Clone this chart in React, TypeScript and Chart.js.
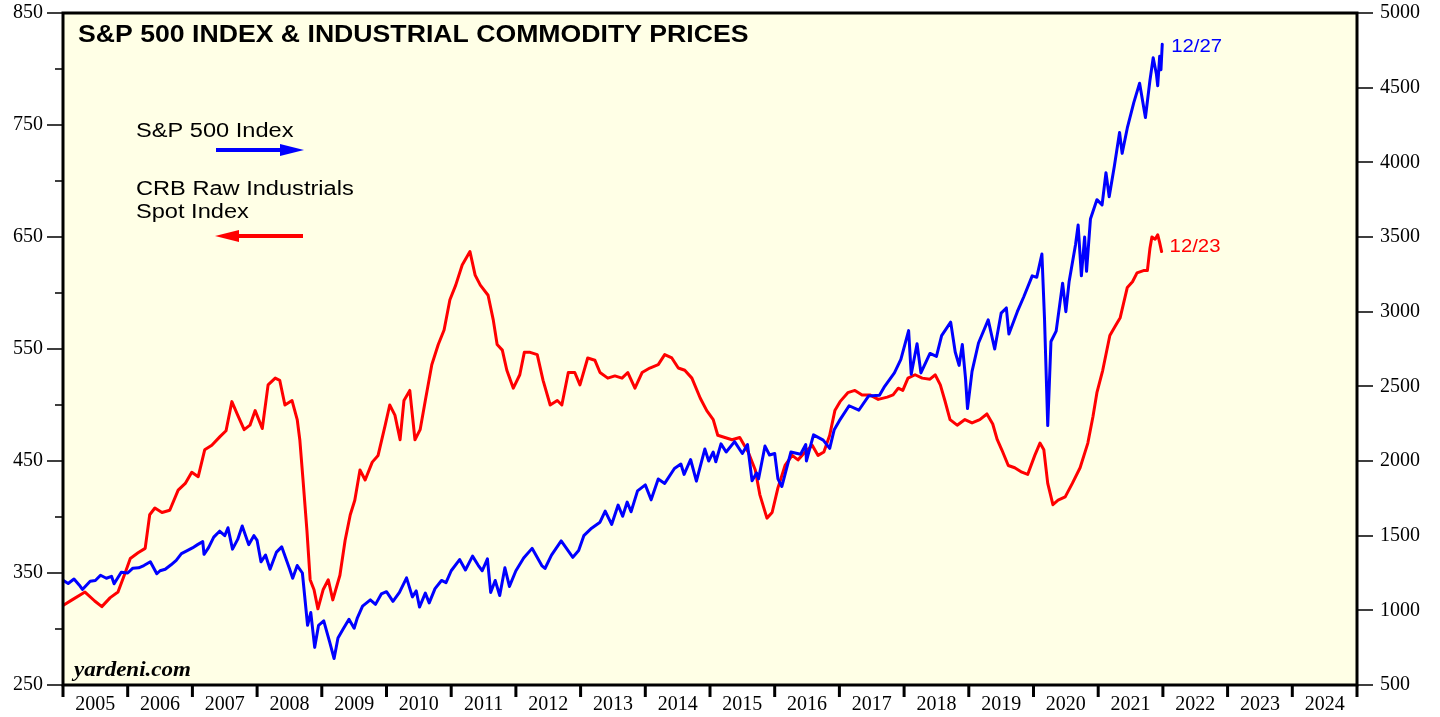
import React, { useEffect, useRef } from 'react';
import { Chart, registerables } from 'chart.js';

Chart.register(...registerables);

const TITLE = 'S&P 500 INDEX & INDUSTRIAL COMMODITY PRICES';
const LEGEND_SPX = 'S&P 500 Index';
const LEGEND_CRB = ['CRB Raw Industrials', 'Spot Index'];
const END_SPX = '12/27';
const END_CRB = '12/23';
const SOURCE = 'yardeni.com';

const yearLabels = [2005, 2006, 2007, 2008, 2009, 2010, 2011, 2012, 2013, 2014, 2015, 2016, 2017, 2018, 2019, 2020, 2021, 2022, 2023, 2024];
const leftMajorTicks = [250, 350, 450, 550, 650, 750, 850];
const leftMinorTicks = [300, 400, 500, 600, 700, 800];
const rightTicks = [500, 1000, 1500, 2000, 2500, 3000, 3500, 4000, 4500, 5000];

// S&P 500 Index (right axis) — [decimal year, value]
const spx: [number, number][] = [
  [2005.00, 1202], [2005.08, 1180], [2005.17, 1210], [2005.25, 1170], [2005.30, 1140], [2005.42, 1195],
  [2005.50, 1200], [2005.58, 1235], [2005.67, 1215], [2005.75, 1228], [2005.79, 1178], [2005.90, 1255],
  [2006.00, 1250], [2006.08, 1282], [2006.17, 1285], [2006.25, 1300], [2006.35, 1325], [2006.45, 1245],
  [2006.50, 1265], [2006.58, 1275], [2006.67, 1305], [2006.75, 1335], [2006.83, 1380], [2006.92, 1400],
  [2007.00, 1418], [2007.08, 1440], [2007.16, 1460], [2007.18, 1375], [2007.25, 1420], [2007.33, 1490],
  [2007.42, 1530], [2007.50, 1500], [2007.55, 1553], [2007.62, 1410], [2007.70, 1475], [2007.77, 1565],
  [2007.87, 1440], [2007.95, 1500], [2008.00, 1468], [2008.06, 1325], [2008.13, 1370], [2008.20, 1275],
  [2008.30, 1390], [2008.38, 1425], [2008.50, 1280], [2008.55, 1215], [2008.62, 1300], [2008.70, 1250],
  [2008.78, 900], [2008.83, 985], [2008.89, 752], [2008.95, 900], [2009.03, 930], [2009.12, 790],
  [2009.19, 677], [2009.25, 815], [2009.33, 875], [2009.42, 940], [2009.50, 880], [2009.55, 950],
  [2009.63, 1028], [2009.75, 1070], [2009.83, 1040], [2009.92, 1110], [2010.00, 1125], [2010.10, 1060],
  [2010.20, 1120], [2010.31, 1217], [2010.40, 1090], [2010.46, 1130], [2010.51, 1022], [2010.60, 1115],
  [2010.66, 1050], [2010.75, 1145], [2010.85, 1200], [2010.92, 1185], [2011.00, 1265], [2011.13, 1340],
  [2011.22, 1270], [2011.33, 1363], [2011.42, 1300], [2011.48, 1265], [2011.56, 1345], [2011.61, 1120],
  [2011.68, 1200], [2011.75, 1099], [2011.83, 1285], [2011.90, 1160], [2012.00, 1265], [2012.12, 1350],
  [2012.25, 1415], [2012.40, 1300], [2012.45, 1280], [2012.55, 1370], [2012.70, 1465], [2012.88, 1355],
  [2012.97, 1400], [2013.05, 1500], [2013.17, 1550], [2013.30, 1590], [2013.38, 1665], [2013.48, 1575],
  [2013.58, 1705], [2013.65, 1630], [2013.72, 1725], [2013.78, 1660], [2013.88, 1800], [2014.00, 1840],
  [2014.09, 1740], [2014.20, 1880], [2014.30, 1850], [2014.45, 1950], [2014.55, 1980], [2014.60, 1910],
  [2014.70, 2010], [2014.79, 1865], [2014.92, 2080], [2014.98, 2000], [2015.05, 2060], [2015.09, 1995],
  [2015.17, 2115], [2015.25, 2060], [2015.38, 2130], [2015.50, 2050], [2015.58, 2110], [2015.65, 1867],
  [2015.72, 1920], [2015.75, 1880], [2015.85, 2100], [2015.92, 2040], [2016.00, 2050], [2016.05, 1880],
  [2016.11, 1829], [2016.25, 2060], [2016.40, 2045], [2016.48, 2110], [2016.49, 2000], [2016.60, 2175],
  [2016.75, 2140], [2016.85, 2085], [2016.92, 2210], [2017.00, 2270], [2017.15, 2370], [2017.30, 2340],
  [2017.45, 2435], [2017.62, 2440], [2017.70, 2500], [2017.85, 2590], [2017.95, 2680], [2018.07, 2873],
  [2018.11, 2581], [2018.20, 2785], [2018.26, 2590], [2018.40, 2720], [2018.50, 2700], [2018.58, 2840],
  [2018.72, 2930], [2018.79, 2730], [2018.85, 2640], [2018.90, 2780], [2018.95, 2550], [2018.98, 2351],
  [2019.05, 2600], [2019.15, 2790], [2019.30, 2945], [2019.40, 2750], [2019.50, 2990], [2019.58, 3025],
  [2019.62, 2850], [2019.75, 3000], [2019.85, 3100], [2019.98, 3240], [2020.05, 3230], [2020.13, 3386],
  [2020.17, 2955], [2020.22, 2237], [2020.27, 2800], [2020.35, 2870], [2020.45, 3190], [2020.50, 3000],
  [2020.55, 3200], [2020.65, 3450], [2020.69, 3580], [2020.74, 3240], [2020.79, 3500], [2020.82, 3270],
  [2020.88, 3620], [2020.98, 3750], [2021.06, 3715], [2021.12, 3930], [2021.17, 3770], [2021.25, 3975],
  [2021.33, 4200], [2021.37, 4060], [2021.45, 4230], [2021.55, 4400], [2021.64, 4530], [2021.73, 4300],
  [2021.80, 4550], [2021.85, 4700], [2021.90, 4590], [2021.92, 4513], [2021.95, 4710], [2021.97, 4620],
  [2021.99, 4791],
];

// CRB Raw Industrials Spot Index (left axis) — [decimal year, value]
const crb: [number, number][] = [
  [2005.00, 321], [2005.14, 326], [2005.34, 333], [2005.49, 325], [2005.60, 320], [2005.73, 328],
  [2005.85, 333], [2005.96, 350], [2006.04, 363], [2006.16, 368], [2006.27, 372], [2006.34, 402],
  [2006.42, 408], [2006.53, 404], [2006.65, 406], [2006.78, 424], [2006.89, 430], [2006.99, 440],
  [2007.09, 436], [2007.19, 460], [2007.30, 464], [2007.43, 472], [2007.52, 477], [2007.61, 503],
  [2007.70, 491], [2007.80, 478], [2007.89, 482], [2007.97, 495], [2008.08, 479], [2008.17, 518],
  [2008.28, 524], [2008.35, 522], [2008.43, 500], [2008.54, 504], [2008.62, 487], [2008.66, 469],
  [2008.71, 433], [2008.77, 388], [2008.82, 344], [2008.88, 335], [2008.94, 318], [2009.02, 335],
  [2009.10, 344], [2009.17, 326], [2009.28, 348], [2009.36, 379], [2009.44, 402], [2009.51, 415],
  [2009.59, 442], [2009.67, 433], [2009.78, 449], [2009.87, 455], [2009.98, 482], [2010.05, 500],
  [2010.13, 491], [2010.21, 469], [2010.27, 504], [2010.36, 513], [2010.44, 469], [2010.52, 478],
  [2010.60, 504], [2010.70, 536], [2010.80, 554], [2010.89, 567], [2010.98, 594], [2011.07, 607],
  [2011.17, 625], [2011.29, 637], [2011.37, 616], [2011.45, 607], [2011.57, 598], [2011.65, 576],
  [2011.71, 554], [2011.79, 549], [2011.86, 531], [2011.96, 515], [2012.06, 527], [2012.13, 547],
  [2012.22, 547], [2012.33, 545], [2012.42, 522], [2012.53, 500], [2012.64, 504], [2012.71, 500],
  [2012.81, 529], [2012.91, 529], [2012.99, 518], [2013.11, 542], [2013.22, 540], [2013.30, 529],
  [2013.42, 524], [2013.53, 526], [2013.64, 524], [2013.73, 529], [2013.84, 515], [2013.95, 529],
  [2014.07, 533], [2014.20, 536], [2014.30, 545], [2014.41, 542], [2014.51, 533], [2014.61, 531],
  [2014.72, 524], [2014.85, 506], [2014.95, 495], [2015.05, 487], [2015.12, 473], [2015.23, 471],
  [2015.34, 469], [2015.46, 471], [2015.59, 458], [2015.70, 442], [2015.77, 420], [2015.88, 399],
  [2015.96, 404], [2016.05, 426], [2016.16, 446], [2016.27, 455], [2016.36, 451], [2016.47, 458],
  [2016.58, 464], [2016.67, 455], [2016.76, 458], [2016.85, 473], [2016.93, 495], [2017.01, 503],
  [2017.13, 511], [2017.24, 513], [2017.35, 509], [2017.47, 509], [2017.60, 505], [2017.74, 507],
  [2017.83, 509], [2017.91, 515], [2017.98, 513], [2018.06, 524], [2018.17, 527], [2018.28, 524],
  [2018.40, 523], [2018.48, 527], [2018.56, 518], [2018.63, 504], [2018.71, 487], [2018.82, 482],
  [2018.94, 487], [2019.05, 484], [2019.17, 487], [2019.28, 492], [2019.37, 483], [2019.44, 469],
  [2019.51, 460], [2019.61, 446], [2019.71, 444], [2019.82, 440], [2019.91, 438], [2020.02, 455],
  [2020.10, 466], [2020.16, 460], [2020.22, 430], [2020.30, 411], [2020.38, 415], [2020.49, 418],
  [2020.60, 430], [2020.72, 444], [2020.84, 466], [2020.92, 490], [2020.98, 511], [2021.07, 531],
  [2021.18, 562], [2021.26, 570], [2021.34, 578], [2021.45, 605], [2021.53, 610], [2021.60, 618],
  [2021.70, 620], [2021.76, 620], [2021.80, 640], [2021.83, 650], [2021.88, 648], [2021.92, 652],
  [2021.95, 645], [2021.98, 637],
];

const BLUE = '#0000ff';
const RED = '#ff0000';
const PLOT_BG = 'rgb(255,255,230)';

function stretchText(ctx: CanvasRenderingContext2D, txt: string, x: number, y: number, font: string, color: string, sx: number) {
  ctx.save();
  ctx.font = font;
  ctx.fillStyle = color;
  ctx.textAlign = 'left';
  ctx.textBaseline = 'alphabetic';
  ctx.translate(x, y);
  ctx.scale(sx, 1);
  ctx.fillText(txt, 0, 0);
  ctx.restore();
}

function arrow(ctx: CanvasRenderingContext2D, x1: number, x2: number, y: number, color: string, headRight: boolean) {
  const headLen = 24;
  const half = 6;
  ctx.save();
  ctx.strokeStyle = color;
  ctx.fillStyle = color;
  ctx.lineWidth = 4;
  ctx.beginPath();
  if (headRight) {
    ctx.moveTo(x1, y);
    ctx.lineTo(x2 - headLen + 2, y);
  } else {
    ctx.moveTo(x1 + headLen - 2, y);
    ctx.lineTo(x2, y);
  }
  ctx.stroke();
  ctx.beginPath();
  if (headRight) {
    ctx.moveTo(x2, y);
    ctx.lineTo(x2 - headLen, y - half);
    ctx.lineTo(x2 - headLen, y + half);
  } else {
    ctx.moveTo(x1, y);
    ctx.lineTo(x1 + headLen, y - half);
    ctx.lineTo(x1 + headLen, y + half);
  }
  ctx.closePath();
  ctx.fill();
  ctx.restore();
}

const decorPlugin = {
  id: 'decor',
  beforeDraw(chart: any) {
    const { ctx, chartArea: a } = chart;
    ctx.save();
    ctx.fillStyle = '#ffffff';
    ctx.fillRect(0, 0, chart.width, chart.height);
    ctx.fillStyle = PLOT_BG;
    ctx.fillRect(a.left, a.top, a.right - a.left, a.bottom - a.top);
    ctx.restore();
  },
  afterDatasetsDraw(chart: any) {
    const { ctx, chartArea: a, scales } = chart;
    const xS = scales.x;
    const yL = scales.yL;
    const yR = scales.yR;
    ctx.save();
    ctx.strokeStyle = '#000';
    ctx.lineWidth = 1.5;
    ctx.beginPath();
    leftMajorTicks.forEach((v) => {
      const y = Math.round(yL.getPixelForValue(v));
      ctx.moveTo(a.left - 16, y);
      ctx.lineTo(a.left, y);
    });
    leftMinorTicks.forEach((v) => {
      const y = Math.round(yL.getPixelForValue(v));
      ctx.moveTo(a.left - 8, y);
      ctx.lineTo(a.left, y);
    });
    rightTicks.forEach((v) => {
      const y = Math.round(yR.getPixelForValue(v));
      ctx.moveTo(a.right, y);
      ctx.lineTo(a.right + 16, y);
    });
    ctx.stroke();
    ctx.lineWidth = 3;
    ctx.beginPath();
    [...yearLabels, yearLabels[yearLabels.length - 1] + 1].forEach((yr) => {
      const x = xS.getPixelForValue(yr);
      ctx.moveTo(x, a.bottom);
      ctx.lineTo(x, a.bottom + 12);
    });
    ctx.stroke();
    ctx.lineWidth = 3;
    ctx.strokeRect(a.left, a.top, a.right - a.left, a.bottom - a.top);
    ctx.restore();

    stretchText(ctx, TITLE, a.left + 15, a.top + 29, 'bold 24px "Liberation Sans", Arial, sans-serif', '#000', 1.11);
    stretchText(ctx, LEGEND_SPX, 136, 137, '20px "Liberation Sans", Arial, sans-serif', '#000', 1.18);
    stretchText(ctx, LEGEND_CRB[0], 136, 195, '20px "Liberation Sans", Arial, sans-serif', '#000', 1.18);
    stretchText(ctx, LEGEND_CRB[1], 136, 218, '20px "Liberation Sans", Arial, sans-serif', '#000', 1.18);
    arrow(ctx, 216, 304, 150, BLUE, true);
    arrow(ctx, 215, 303, 236, RED, false);
    stretchText(ctx, SOURCE, a.left + 11, a.bottom - 9, 'bold italic 20px "Liberation Serif", "Times New Roman", serif', '#000', 1.15);

    const lastS = spx[spx.length - 1];
    const lastC = crb[crb.length - 1];
    stretchText(ctx, END_SPX, xS.getPixelForValue(lastS[0]) + 9, yR.getPixelForValue(lastS[1]) + 8, '19px "Liberation Sans", Arial, sans-serif', BLUE, 1.07);
    stretchText(ctx, END_CRB, xS.getPixelForValue(lastC[0]) + 8, yL.getPixelForValue(lastC[1]) + 0, '19px "Liberation Sans", Arial, sans-serif', RED, 1.07);
  },
};

const tickFont = { family: '"Liberation Serif", "Times New Roman", serif', size: 20 };

export default function App() {
  const canvasRef = useRef<HTMLCanvasElement | null>(null);

  useEffect(() => {
    const canvas = canvasRef.current;
    if (!canvas) return;
    const chart = new Chart(canvas, {
      type: 'line',
      data: {
        datasets: [
          {
            label: 'S&P 500 Index',
            data: spx.map(([x, y]) => ({ x, y })),
            borderColor: BLUE,
            backgroundColor: BLUE,
            borderWidth: 3,
            pointRadius: 0,
            tension: 0,
            borderJoinStyle: 'round',
            borderCapStyle: 'round',
            yAxisID: 'yR',
          },
          {
            label: 'CRB Raw Industrials Spot Index',
            data: crb.map(([x, y]) => ({ x, y })),
            borderColor: RED,
            backgroundColor: RED,
            borderWidth: 3,
            pointRadius: 0,
            tension: 0,
            borderJoinStyle: 'round',
            borderCapStyle: 'round',
            yAxisID: 'yL',
          },
        ],
      },
      options: {
        responsive: false,
        animation: false,
        devicePixelRatio: 1,
        layout: { padding: { top: 13, left: 0, right: 0, bottom: 0 } },
        plugins: {
          legend: { display: false },
          tooltip: { enabled: false },
          title: { display: false },
        },
        scales: {
          x: {
            type: 'linear',
            min: 2005,
            max: 2025,
            grid: { display: false, drawTicks: false, tickLength: 0 },
            border: { display: false },
            afterBuildTicks: (s: any) => {
              s.ticks = yearLabels.map((y) => ({ value: y + 0.5 }));
            },
            afterFit: (s: any) => {
              s.height = 32;
              s.paddingLeft = 0;
              s.paddingRight = 0;
            },
            ticks: {
              autoSkip: false,
              maxRotation: 0,
              minRotation: 0,
              padding: 8,
              color: '#000',
              font: tickFont,
              callback: (v: any) => String(Math.floor(Number(v))),
            },
          },
          yL: {
            type: 'linear',
            position: 'left',
            min: 250,
            max: 850,
            grid: { display: false, drawTicks: false, tickLength: 0 },
            border: { display: false },
            afterFit: (s: any) => {
              s.width = 63;
              s.paddingTop = 0;
              s.paddingBottom = 0;
            },
            ticks: {
              stepSize: 50,
              maxTicksLimit: 100,
              autoSkip: false,
              padding: 20,
              color: '#000',
              font: tickFont,
              callback: (v: any) => ((Number(v) - 250) % 100 === 0 ? String(v) : ''),
            },
          },
          yR: {
            type: 'linear',
            position: 'right',
            min: 500,
            max: 5000,
            grid: { display: false, drawTicks: false, tickLength: 0 },
            border: { display: false },
            afterFit: (s: any) => {
              s.width = 83;
              s.paddingTop = 0;
              s.paddingBottom = 0;
            },
            ticks: {
              stepSize: 500,
              maxTicksLimit: 100,
              autoSkip: false,
              padding: 23,
              color: '#000',
              font: tickFont,
              callback: (v: any) => String(v),
            },
          },
        },
      } as any,
      plugins: [decorPlugin],
    });
    return () => chart.destroy();
  }, []);

  return (
    <div style={{ position: 'absolute', left: 0, top: 0, width: 1440, height: 717 }}>
      <canvas ref={canvasRef} width={1440} height={717} style={{ display: 'block', width: 1440, height: 717 }} />
    </div>
  );
}
